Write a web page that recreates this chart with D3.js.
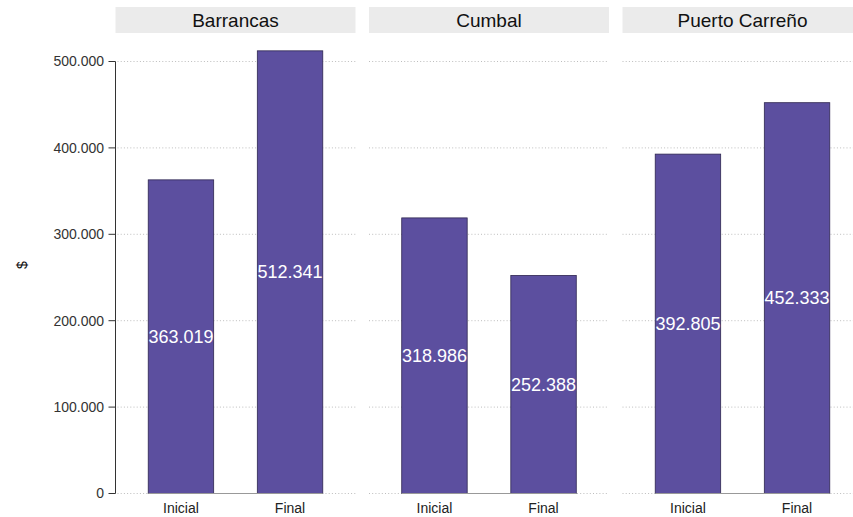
<!DOCTYPE html>
<html>
<head>
<meta charset="utf-8">
<script src="https://cdn.jsdelivr.net/npm/d3@7"></script>
<style>
body { margin: 0; background: #fff; }
svg { display: block; font-family: "Liberation Sans", Arial, sans-serif; }
</style>
</head>
<body>
<svg id="chart" width="853" height="517"></svg>
<script>
const municipios = ["Barrancas", "Cumbal", "Puerto Carreño"];
const categorias = ["Inicial", "Final"];
const valoresInicial = [363019, 318986, 392805];
const valoresFinal = [512341, 252388, 452333];
const yTicks = [0, 100000, 200000, 300000, 400000, 500000];
const yLabel = "$";

const locale = d3.formatLocale({ decimal: ",", thousands: ".", grouping: [3], currency: ["$", ""] });
const fmt = locale.format(",.0f");

const svg = d3.select("#chart");
const panelW = 240, panelGap = 13.5, panelLeft = 115.5;
const panelBottom = 493.5;
const stripTop = 7, stripH = 26;

const y = d3.scaleLinear().domain([0, 500000]).range([panelBottom, 61.5]);

// y axis
const yAxisG = svg.append("g").attr("transform", `translate(${panelLeft},0)`);
yAxisG.append("line").attr("x1", 0).attr("x2", 0).attr("y1", y(500000)).attr("y2", y(0))
  .attr("stroke", "#333").attr("stroke-width", 1);
yTicks.forEach(t => {
  yAxisG.append("line").attr("x1", -7).attr("x2", 0).attr("y1", y(t)).attr("y2", y(t))
    .attr("stroke", "#333").attr("stroke-width", 1);
  yAxisG.append("text").attr("x", -11.5).attr("y", y(t)).attr("dy", "0.35em")
    .attr("text-anchor", "end").attr("font-size", 14).attr("fill", "#333").text(fmt(t));
});
svg.append("text").attr("transform", `translate(27,265) rotate(-90)`)
  .attr("text-anchor", "middle").attr("font-size", 14).attr("fill", "#111").text(yLabel);

municipios.forEach((m, i) => {
  const x0 = panelLeft + i * (panelW + panelGap);
  const g = svg.append("g").attr("transform", `translate(${x0},0)`);
  const x = d3.scalePoint().domain(categorias).range([0, panelW]).padding(0.6);
  const bw = x.step() * 0.6;
  const vals = [valoresInicial[i], valoresFinal[i]];

  // strip
  g.append("rect").attr("x", 0).attr("y", stripTop).attr("width", panelW).attr("height", stripH)
    .attr("fill", "#ebebeb");
  g.append("text").attr("x", panelW / 2).attr("y", stripTop + stripH / 2).attr("dy", "0.35em")
    .attr("text-anchor", "middle").attr("font-size", 19).attr("fill", "#111").text(m);

  // gridlines
  yTicks.forEach(t => {
    g.append("line").attr("x1", i === 0 ? 2 : 0).attr("x2", panelW).attr("y1", y(t)).attr("y2", y(t))
      .attr("stroke", "#bdbdbd").attr("stroke-width", 1).attr("stroke-dasharray", "1,2.2");
  });

  // bars
  categorias.forEach((c, j) => {
    g.append("rect").attr("x", x(c) - bw / 2).attr("y", y(vals[j]))
      .attr("width", bw).attr("height", y(0) - y(vals[j]))
      .attr("fill", "#5c4f9f").attr("stroke", "#2e2650").attr("stroke-width", 0.8);
  });

  // capped x axis line
  g.append("line").attr("x1", x(categorias[0]) - bw / 2).attr("x2", x(categorias[1]) + bw / 2)
    .attr("y1", y(0)).attr("y2", y(0)).attr("stroke", "#999").attr("stroke-width", 1.2);

  // labels
  categorias.forEach((c, j) => {
    g.append("text").attr("x", x(c)).attr("y", y(vals[j] / 2)).attr("dy", "0.35em")
      .attr("text-anchor", "middle").attr("font-size", 18).attr("fill", "#fff").text(fmt(vals[j]));
    g.append("text").attr("x", x(c)).attr("y", 508).attr("dy", "0.35em")
      .attr("text-anchor", "middle").attr("font-size", 14).attr("fill", "#222").text(c);
  });
});
</script>
</body>
</html>
